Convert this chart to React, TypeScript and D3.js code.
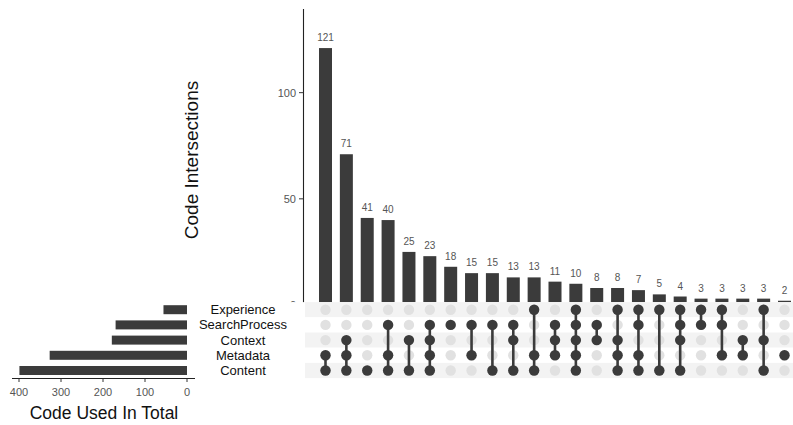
import React from "react";
import * as d3 from "d3";

const sets = ["Experience", "SearchProcess", "Context", "Metadata", "Content"];
const setSizes = [56, 170, 179, 327, 399];
const counts = [121, 71, 41, 40, 25, 23, 18, 15, 15, 13, 13, 11, 10, 8, 8, 7, 5, 4, 3, 3, 3, 3, 2];
const members: string[][] = [
  ["Metadata", "Content"],
  ["Context", "Metadata", "Content"],
  ["Content"],
  ["SearchProcess", "Metadata", "Content"],
  ["Context", "Content"],
  ["SearchProcess", "Context", "Metadata", "Content"],
  ["SearchProcess"],
  ["SearchProcess", "Metadata"],
  ["SearchProcess", "Content"],
  ["SearchProcess", "Context", "Content"],
  ["Experience", "Metadata", "Content"],
  ["SearchProcess", "Context", "Metadata"],
  ["Experience", "SearchProcess", "Context", "Metadata", "Content"],
  ["SearchProcess", "Context"],
  ["Experience", "Context", "Metadata", "Content"],
  ["Experience", "SearchProcess", "Metadata", "Content"],
  ["Experience", "Content"],
  ["Experience", "SearchProcess", "Context", "Content"],
  ["Experience", "SearchProcess"],
  ["Experience", "SearchProcess", "Metadata"],
  ["Context", "Metadata"],
  ["Experience", "Context", "Content"],
  ["Metadata"],
];
const barTicks = [0, 50, 100];
const sizeTicks = [400, 300, 200, 100, 0];

const W = 793;
const H = 425;
const DARK = "#3b3b3b";
const FONT = "Liberation Sans, Arial, sans-serif";

export default function App() {
  const x = d3.scalePoint<number>().domain(counts.map((_, i) => i)).range([325.5, 784.5]);
  const y = d3.scaleLinear().domain([0, 139.4]).range([305, 9]);
  const row = d3.scalePoint<string>().domain(sets).range([309.7, 370.5]);
  const rowH = 15.2;
  const sx = d3.scaleLinear().domain([0, 400]).range([187, 19]);
  const barW = 13;
  const matTop = row(sets[0])! - rowH / 2;

  return (
    <svg width={W} height={H} style={{ position: "absolute", left: 0, top: 0, background: "#fff" }} fontFamily={FONT}>
      {/* intersection bars */}
      {counts.map((c, i) => (
        <g key={"b" + i}>
          <rect x={x(i)! - barW / 2} y={y(c)} width={barW} height={y(0) - y(c)} fill={DARK} />
          <text x={x(i)!} y={y(c) - 7} textAnchor="middle" fontSize={10} fill="#555">{c}</text>
        </g>
      ))}
      {/* y axis */}
      <line x1={303.5} x2={303.5} y1={9} y2={305} stroke="#222" strokeWidth={1.1} />
      {barTicks.map((t) => (
        <g key={"t" + t}>
          <line x1={299} x2={303.5} y1={y(t)} y2={y(t)} stroke="#333" strokeWidth={1} />
          <text x={296} y={y(t) + 4} textAnchor="end" fontSize={11} fill="#555">{t}</text>
        </g>
      ))}
      <text transform={`translate(198,160) rotate(-90)`} textAnchor="middle" fontSize={19} fill="#111">Code Intersections</text>
      {/* white panel under the bar plot */}
      <rect x={0} y={matTop} width={W} height={H - matTop} fill="#fff" />
      {/* matrix background */}
      {sets.map((s, j) => (
        <rect key={"bg" + s} x={305} y={row(s)! - rowH / 2} width={W - 305} height={rowH}
          fill={j % 2 === 0 ? "#f3f3f3" : "#ffffff"} />
      ))}
      {/* dots */}
      {counts.map((_, i) => (
        <g key={"m" + i}>
          {sets.map((s) => (
            <circle key={s} cx={x(i)!} cy={row(s)!} r={5.2} fill="#e1e1e1" />
          ))}
          {(() => {
            const ys = members[i].map((s) => row(s)!);
            const lo = d3.min(ys)!;
            const hi = d3.max(ys)!;
            return <line x1={x(i)!} x2={x(i)!} y1={lo} y2={hi} stroke={DARK} strokeWidth={2.6} />;
          })()}
          {members[i].map((s) => (
            <circle key={"a" + s} cx={x(i)!} cy={row(s)!} r={5.2} fill={DARK} />
          ))}
        </g>
      ))}
      {/* set labels */}
      {sets.map((s) => (
        <text key={"l" + s} x={243} y={row(s)! + 4.5} textAnchor="middle" fontSize={13} fill="#111">{s}</text>
      ))}
      {/* set size bars */}
      {sets.map((s, j) => (
        <rect key={"s" + s} x={sx(setSizes[j])} y={row(s)! - 4.5} width={sx(0) - sx(setSizes[j])} height={9} fill={DARK} />
      ))}
      <line x1={12} x2={195} y1={378.5} y2={378.5} stroke="#222" strokeWidth={1.1} />
      {sizeTicks.map((t) => (
        <g key={"st" + t}>
          <line x1={sx(t)} x2={sx(t)} y1={378.5} y2={382} stroke="#333" strokeWidth={1} />
          <text x={sx(t)} y={396} textAnchor="middle" fontSize={11} fill="#555">{t}</text>
        </g>
      ))}
      <text x={104} y={419} textAnchor="middle" fontSize={17.5} fill="#111">Code Used In Total</text>
    </svg>
  );
}
